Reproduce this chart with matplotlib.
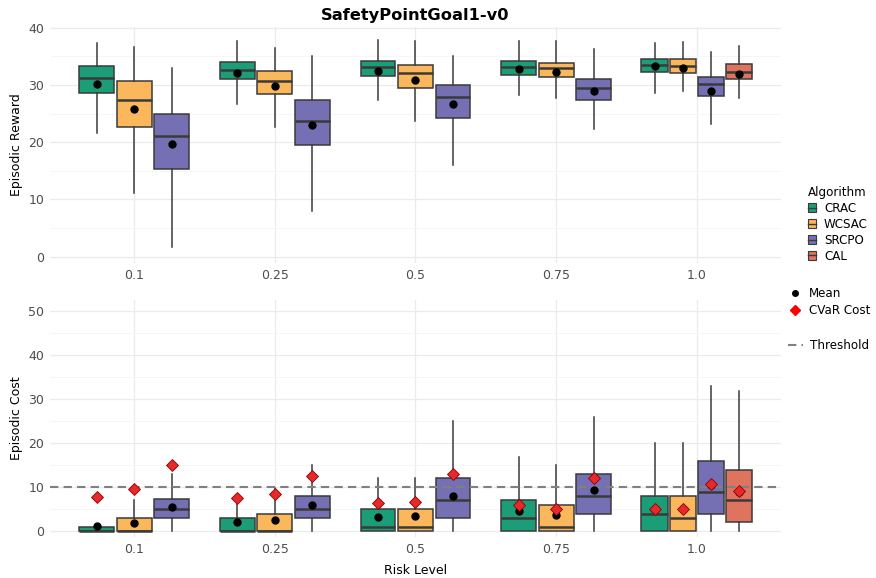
import matplotlib.pyplot as plt
from matplotlib.lines import Line2D
from matplotlib.patches import Patch

risk_levels = ["0.1", "0.25", "0.5", "0.75", "1.0"]
algorithms = ["CRAC", "WCSAC", "SRCPO", "CAL"]
colors = ["#1b9e77", "#fbb75b", "#7570b3", "#de745f"]

# box stats per risk level: (whisker low, q1, median, q3, whisker high); None = not run
reward_crac = [(21.6, 28.6, 31.2, 33.4, 37.3), (26.6, 31.0, 32.7, 34.1, 37.6),
               (27.4, 31.5, 33.2, 34.2, 37.9), (28.3, 31.8, 33.1, 34.2, 37.6),
               (28.6, 32.2, 33.5, 34.5, 37.4)]
reward_wcsac = [(11.1, 22.6, 27.3, 30.7, 36.7), (22.6, 28.5, 30.7, 32.4, 36.5),
                (23.7, 29.5, 32.1, 33.5, 37.6), (27.7, 31.4, 32.9, 33.9, 37.6),
                (29.0, 32.1, 33.3, 34.5, 37.5)]
reward_srcpo = [(1.7, 15.3, 21.0, 24.9, 32.9), (8.0, 19.5, 23.7, 27.4, 35.0),
                (16.0, 24.3, 27.9, 30.0, 35.0), (22.3, 27.4, 29.4, 31.1, 36.2),
                (23.2, 28.0, 30.1, 31.4, 35.7)]
reward_cal = [None, None, None, None, (27.7, 31.1, 32.3, 33.6, 36.8)]

reward_mean_crac = [30.2, 32.1, 32.4, 32.8, 33.3]
reward_mean_wcsac = [25.8, 29.9, 30.9, 32.3, 33.0]
reward_mean_srcpo = [19.7, 23.0, 26.6, 28.9, 29.0]
reward_mean_cal = [None, None, None, None, 31.9]

cost_crac = [(0, 0, 0, 1.0, 1.0), (0, 0, 0, 3.0, 6.8), (0, 0, 1.0, 5.0, 12.0),
             (0, 0, 3.0, 7.0, 17.0), (0, 0, 4.0, 8.0, 20.0)]
cost_wcsac = [(0, 0, 0, 3.0, 7.1), (0, 0, 0, 4.0, 9.8), (0, 0, 1.0, 5.0, 12.0),
              (0, 0, 1.0, 6.0, 15.0), (0, 0, 3.0, 8.0, 20.0)]
cost_srcpo = [(0, 3.0, 5.0, 7.3, 13.0), (0, 3.0, 5.0, 8.0, 15.0), (0, 3.0, 7.0, 12.0, 25.0),
              (0, 4.0, 8.0, 13.1, 26.0), (0, 4.0, 9.0, 16.0, 33.0)]
cost_cal = [None, None, None, None, (0, 2.0, 7.0, 14.0, 32.0)]

cost_mean_crac = [1.3, 2.2, 3.3, 4.5, 5.1]
cost_mean_wcsac = [1.8, 2.65, 3.4, 3.7, 5.0]
cost_mean_srcpo = [5.5, 6.0, 8.0, 9.4, 10.6]
cost_mean_cal = [None, None, None, None, 9.0]

cvar_crac = [7.9, 7.5, 6.4, 6.0, 5.15]
cvar_wcsac = [9.5, 8.4, 6.7, 5.0, 5.1]
cvar_srcpo = [15.0, 12.5, 13.0, 12.0, 10.75]
cvar_cal = [None, None, None, None, 9.1]

threshold = 10

edge = "#3a3a3a"
fig = plt.figure(figsize=(8.76, 5.78), dpi=100)
ax1 = fig.add_axes([0.057, 0.545, 0.8346, 0.408])
ax2 = fig.add_axes([0.057, 0.071, 0.8346, 0.410])


def draw_panel(ax, boxes, means, cvars=None):
    for i in range(len(risk_levels)):
        present = [k for k in range(len(algorithms)) if boxes[k][i] is not None]
        slot = 0.8 / len(present)
        for j, k in enumerate(present):
            pos = i - 0.4 + slot * (j + 0.5)
            lo, q1, med, q3, hi = boxes[k][i]
            stats = [dict(whislo=lo, q1=q1, med=med, q3=q3, whishi=hi, fliers=[])]
            ax.bxp(stats, positions=[pos], widths=slot * 0.93, patch_artist=True,
                   showcaps=False, manage_ticks=False,
                   boxprops=dict(facecolor=colors[k], edgecolor=edge, linewidth=1.1),
                   medianprops=dict(color=edge, linewidth=1.8),
                   whiskerprops=dict(color=edge, linewidth=1.1))
            ax.plot(pos, means[k][i], "o", color="black", ms=5, zorder=4)
            if cvars is not None:
                ax.plot(pos, cvars[k][i], "D", mfc="#e8292b", mec="#8b0000",
                        mew=0.6, ms=6, zorder=5)


draw_panel(ax1, [reward_crac, reward_wcsac, reward_srcpo, reward_cal],
           [reward_mean_crac, reward_mean_wcsac, reward_mean_srcpo, reward_mean_cal])
draw_panel(ax2, [cost_crac, cost_wcsac, cost_srcpo, cost_cal],
           [cost_mean_crac, cost_mean_wcsac, cost_mean_srcpo, cost_mean_cal],
           [cvar_crac, cvar_wcsac, cvar_srcpo, cvar_cal])
ax2.axhline(threshold, color="#808080", ls=(0, (4, 2.5)), lw=1.5, zorder=3)

ax1.set_ylim(-1.1, 40.1)
ax1.set_yticks([0, 10, 20, 30, 40])
ax1.set_yticks([5, 15, 25, 35], minor=True)
ax2.set_ylim(-1.3, 52.6)
ax2.set_yticks([0, 10, 20, 30, 40, 50])
ax2.set_yticks([5, 15, 25, 35, 45], minor=True)

for ax in (ax1, ax2):
    ax.set_xlim(-0.6, 4.6)
    ax.set_xticks(range(len(risk_levels)))
    ax.set_xticklabels(risk_levels)
    ax.set_axisbelow(True)
    ax.grid(which="major", color="#ebebeb", lw=0.9)
    ax.grid(which="minor", axis="y", color="#f5f5f5", lw=0.6)
    for s in ax.spines.values():
        s.set_visible(False)
    ax.tick_params(which="both", length=0, labelsize=9, labelcolor="#4d4d4d", pad=4)

ax1.set_ylabel("Episodic Reward", fontsize=9)
ax2.set_ylabel("Episodic Cost", fontsize=9)
ax2.set_xlabel("Risk Level", fontsize=9, labelpad=6)
ax1.set_title("SafetyPointGoal1-v0", fontsize=11.7, fontweight="bold", pad=5)

alg_handles = [(Patch(facecolor=c, edgecolor=edge, lw=0.8),
                Line2D([], [], color=edge, lw=1)) for c in colors]
fig.legend(alg_handles, algorithms, title="Algorithm", loc="upper left",
           bbox_to_anchor=(0.916, 0.689), frameon=False, fontsize=8.6, title_fontsize=8.6,
           alignment="left", handlelength=0.6, handleheight=0.7, handletextpad=0.7,
           labelspacing=0.25, borderpad=0)

stat_handles = [Line2D([], [], marker="o", color="black", ls="", ms=4),
                Line2D([], [], marker="D", color="red", ls="", ms=5)]
fig.legend(stat_handles, ["Mean", "CVaR Cost"], loc="upper left",
           bbox_to_anchor=(0.893, 0.514), frameon=False, fontsize=8.6,
           handlelength=1.2, handletextpad=0.5, labelspacing=0.35, borderpad=0)
fig.legend([Line2D([], [], color="#808080", ls=(0, (4, 2.5)), lw=1.5)], ["Threshold"],
           loc="upper left", bbox_to_anchor=(0.893, 0.424), frameon=False, fontsize=8.6,
           handlelength=1.2, handletextpad=0.6, borderpad=0)

fig.savefig("out.png", dpi=100)
